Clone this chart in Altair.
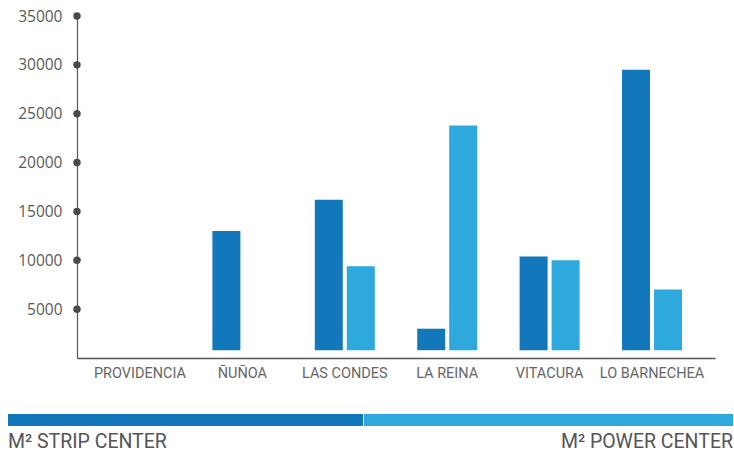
import altair as alt
import pandas as pd

# Comunas and square metres per format
comunas = ["PROVIDENCIA", "ÑUÑOA", "LAS CONDES", "LA REINA", "VITACURA", "LO BARNECHEA"]
strip_center = [None, 13000, 16200, 3000, 10400, 29500]
power_center = [None, None, 9400, 23800, 10000, 7000]
series_names = ["M² STRIP CENTER", "M² POWER CENTER"]
series_colors = ["#1278BB", "#2EA9DD"]
y_ticks = [5000, 10000, 15000, 20000, 25000, 30000, 35000]
bar_floor = 800  # bars float slightly above the axis line

rows = []
for i, c in enumerate(comunas):
    rows.append({"comuna": c, "serie": series_names[0], "m2": strip_center[i], "base": bar_floor})
    rows.append({"comuna": c, "serie": series_names[1], "m2": power_center[i], "base": bar_floor})
df = pd.DataFrame(rows)
ticks_df = pd.DataFrame({"v": y_ticks})

y_scale = alt.Scale(domain=[0, 35000], nice=False)
x_scale = alt.Scale(domain=comunas, paddingInner=0.414, paddingOuter=0.322)
text_font = "Roboto"

bars = (
    alt.Chart(df)
    .transform_filter("isValid(datum.m2) && datum.m2 > 0")
    .mark_bar()
    .encode(
        x=alt.X(
            "comuna:N",
            sort=comunas,
            scale=x_scale,
            title=None,
            axis=alt.Axis(
                labelAngle=0,
                ticks=False,
                labelPadding=8,
                labelFont=text_font,
                labelFontSize=14.5,
                labelColor="#666666",
                domainColor="#555555",
                domainWidth=1.5,
            ),
        ),
        xOffset=alt.XOffset(
            "serie:N",
            sort=series_names,
            scale=alt.Scale(domain=series_names, paddingInner=0.125, paddingOuter=0),
        ),
        y=alt.Y(
            "m2:Q",
            scale=y_scale,
            title=None,
            axis=alt.Axis(
                values=y_ticks,
                format="d",
                ticks=False,
                grid=False,
                labelPadding=15,
                labelFont="Open Sans",
                labelFontSize=15.5,
                labelColor="#5a5a5a",
                domainColor="#555555",
                domainWidth=1.2,
            ),
        ),
        y2="base:Q",
        color=alt.Color(
            "serie:N",
            scale=alt.Scale(domain=series_names, range=series_colors),
            legend=None,
        ),
    )
)

# Round markers on the value axis
dots = (
    alt.Chart(ticks_df)
    .mark_circle(size=55, color="#4a4a4a", opacity=1)
    .encode(x=alt.value(0), y=alt.Y("v:Q", scale=y_scale))
)

# Colour key below the chart
legend_df = pd.DataFrame({
    "serie": series_names,
    "x0": [-69, 287],
    "x1": [286, 656],
    "tx": [-69, 656],
})
key_bars = (
    alt.Chart(legend_df)
    .mark_rect()
    .encode(
        x=alt.X("x0:Q", scale=None),
        x2="x1:Q",
        y=alt.value(398),
        y2=alt.value(410),
        color=alt.Color("serie:N", scale=alt.Scale(domain=series_names, range=series_colors), legend=None),
    )
)
key_left = (
    alt.Chart(legend_df.iloc[[0]])
    .mark_text(align="left", baseline="alphabetic", font=text_font, fontSize=19.5, color="#555555")
    .encode(x=alt.X("tx:Q", scale=None), y=alt.value(432), text="serie:N")
)
key_right = (
    alt.Chart(legend_df.iloc[[1]])
    .mark_text(align="right", baseline="alphabetic", font=text_font, fontSize=19.5, color="#555555")
    .encode(x=alt.X("tx:Q", scale=None), y=alt.value(432), text="serie:N")
)

chart = (
    alt.layer(bars, dots, key_bars, key_left, key_right)
    .properties(
        width=638,
        height=342,
        autosize=alt.AutoSizeParams(type="none"),
        padding={"left": 77, "top": 16, "right": 19, "bottom": 96},
        background="white",
    )
    .configure_view(stroke=None)
)

chart.save("out.html", embed_options={"renderer": "svg", "actions": False})
